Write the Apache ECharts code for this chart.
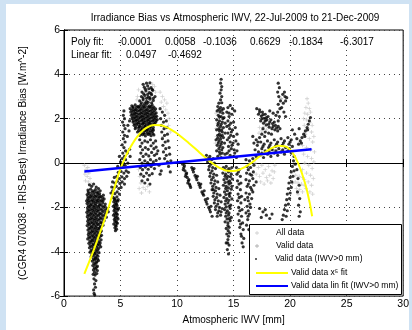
<!DOCTYPE html>
<html>
<head>
<meta charset="utf-8">
<script src="https://cdn.jsdelivr.net/npm/echarts@6/dist/echarts.min.js"></script>
<style>
  html, body { margin: 0; padding: 0; background: #ffffff; }
  #chart { width: 412px; height: 330px; }
</style>
</head>
<body>
<div id="chart"></div>
<script>
// Axis ticks
const xTicks = [0, 5, 10, 15, 20, 25, 30];
const yTicks = [-6, -4, -2, 0, 2, 4, 6];

// Fit coefficients shown in the header
const polyCoeffs = ['-0.0001', '0.0058', '-0.1036', '0.6629', '-0.1834', '-6.3017'];
const linCoeffs = ['0.0497', '-0.4692'];

// All samples (light grey)
const allData = [
  [1.8,-0.1],[1.95,-0.3],[2.1,-0.2],[1.85,-0.5],[2.05,-0.6],[2.2,-0.45],[1.9,-0.8],[2.15,-0.85],[2.3,-0.7],[2.4,-0.95],
  [6.5,3.0],[6.6,3.3],[6.45,2.85],[7.85,3.55],[8.1,3.2],[8.0,3.45],
  [8.5,3.2],[8.7,3.0],[8.9,2.85],[9.1,2.7],[8.6,2.75],[8.8,2.55],[9.0,2.4],[9.2,2.25],[9.3,2.0],[9.25,1.7],[9.4,1.4],
  [6.6,-0.3],[6.7,-0.6],[6.8,-0.9],[6.65,-1.15],[6.85,-1.35],[7.0,-1.1],[7.2,-1.2],[7.4,-1.05],[7.55,-1.3],
  [13.45,2.25],[13.55,1.8],[13.45,1.55],[13.6,2.0],[13.5,1.2],[13.4,0.9],
  [16.9,0.0],[17.2,-0.2],[17.5,-0.1],[17.8,-0.3],[18.1,-0.15],[18.4,-0.35],[17.0,-0.5],[17.3,-0.6],[17.6,-0.45],
  [17.9,-0.65],[18.2,-0.55],[18.5,-0.7],[17.4,-0.85],[17.7,-0.95],[18.0,-0.8],[18.3,-0.9],[18.6,-0.4],[18.65,-0.1],
  [17.3,1.6],[17.5,1.45],[17.7,1.65],[17.25,1.35],[17.9,1.5],
  [21.5,2.9],[21.6,2.7],[21.4,2.5],[21.7,2.45],[21.3,2.25],[21.55,2.2],[21.8,2.3],[21.2,2.0],[21.45,1.95],[21.75,1.85],
  [21.95,1.7],[21.25,1.7],[21.6,1.55],[21.9,1.4],[22.1,1.2],[21.35,1.3],[21.7,1.1],[22.0,0.95],[21.1,0.8],[21.45,0.7],
  [21.8,0.6],[22.15,0.5],[21.2,0.4],[21.55,0.3],[21.9,0.2],[22.1,0.05],[21.3,0.0],[21.65,-0.1],[21.95,-0.25],[21.1,-0.3],
  [21.45,-0.45],[21.8,-0.55],[22.05,-0.7],[21.25,-0.75],[21.6,-0.85],[21.9,-1.0],[21.4,-1.15],[21.75,-1.3],[22.0,-1.4],
  [20.5,-0.55],[20.8,-0.6],[21.1,-0.65],[20.45,-0.85],[20.7,-0.9],[21.0,-0.95],[21.25,-1.0],[20.55,-1.15],[20.85,-1.2],
  [21.1,-1.3],[20.7,-1.4]
];

// Quality-checked samples (mid grey, mostly under the IWV>0 points)
const validData = [
  [2.6,-2.0],[3.1,-2.9],[4.5,-1.9],[6.9,2.1],[7.6,1.7],[8.8,1.2],[11.6,-0.6],[13.8,1.5],[14.6,-1.4],[15.5,-1.6],
  [17.8,1.9],[18.5,0.6],[19.2,2.9],[20.2,-0.9],[21.3,1.3]
];

// Quality-checked samples with IWV > 0 mm (black)
const validPositive = [
  // 2-4 mm
  [2.25,-0.98],[2.45,-1.05],[2.62,-0.95],[2.85,-1.08],[3.05,-1.15],
  [2.12,-1.22],[2.35,-1.18],[2.55,-1.25],[2.78,-1.2],[2.98,-1.3],[3.2,-1.25],
  [2.05,-1.42],[2.22,-1.38],[2.42,-1.45],[2.63,-1.4],[2.82,-1.48],[3.02,-1.42],[3.25,-1.5],[3.48,-1.45],
  [2.1,-1.62],[2.3,-1.58],[2.5,-1.65],[2.7,-1.6],[2.9,-1.66],[3.1,-1.6],[3.32,-1.68],[3.55,-1.62],
  [2.04,-1.82],[2.2,-1.78],[2.4,-1.85],[2.6,-1.8],[2.8,-1.84],[3.0,-1.78],[3.2,-1.86],[3.42,-1.8],[3.65,-1.85],
  [2.08,-2.02],[2.28,-1.98],[2.48,-2.05],[2.68,-2.0],[2.88,-2.04],[3.08,-1.98],[3.28,-2.06],[3.5,-2.0],[3.78,-2.04],
  [2.02,-2.22],[2.22,-2.18],[2.42,-2.25],[2.62,-2.2],[2.82,-2.24],[3.02,-2.18],[3.22,-2.26],[3.45,-2.2],[3.7,-2.24],[3.92,-2.2],
  [2.06,-2.42],[2.26,-2.38],[2.46,-2.45],[2.66,-2.4],[2.86,-2.44],[3.06,-2.38],[3.26,-2.46],[3.5,-2.4],[3.75,-2.44],
  [2.1,-2.62],[2.3,-2.58],[2.5,-2.65],[2.7,-2.6],[2.9,-2.64],[3.1,-2.58],[3.3,-2.66],[3.55,-2.6],
  [2.05,-2.82],[2.25,-2.78],[2.45,-2.85],[2.65,-2.8],[2.85,-2.84],[3.05,-2.78],[3.25,-2.86],[3.45,-2.8],
  [2.12,-3.02],[2.32,-2.98],[2.52,-3.05],[2.72,-3.0],[2.92,-3.04],[3.12,-2.98],[3.3,-3.06],
  [2.15,-3.22],[2.35,-3.18],[2.55,-3.25],[2.75,-3.2],[2.95,-3.24],[3.15,-3.18],[3.32,-3.26],
  [2.1,-3.42],[2.3,-3.38],[2.5,-3.45],[2.7,-3.4],[2.9,-3.44],[3.1,-3.38],[3.28,-3.46],
  [2.2,-3.62],[2.4,-3.58],[2.6,-3.65],[2.8,-3.6],[3.0,-3.64],[3.2,-3.6],
  [2.25,-3.82],[2.45,-3.78],[2.65,-3.85],[2.85,-3.8],[3.05,-3.84],[3.25,-3.78],
  [2.3,-4.02],[2.5,-3.98],[2.7,-4.05],[2.9,-4.0],[3.1,-4.04],
  [2.4,-4.22],[2.6,-4.18],[2.8,-4.25],[3.0,-4.2],
  [2.5,-4.42],[2.7,-4.38],[2.9,-4.45],[3.05,-4.4],
  [2.55,-4.62],[2.75,-4.58],[2.95,-4.65],
  [2.6,-4.82],[2.8,-4.78],[2.95,-4.85],
  [2.58,-5.02],[2.75,-5.05],[2.9,-4.98],
  [2.65,-5.22],[2.82,-5.3],[2.7,-5.45],[2.78,-5.6],[2.62,-5.72],[2.66,-5.88],[2.72,-5.95],
  [2.15,-1.3],[2.45,-1.32],[2.7,-1.3],[2.9,-1.35],[3.15,-1.38],
  [2.12,-1.52],[2.32,-1.5],[2.52,-1.53],[2.72,-1.5],[2.95,-1.53],[3.15,-1.52],[3.4,-1.56],
  [2.0,-1.7],[2.2,-1.69],[2.4,-1.72],[2.6,-1.71],[2.8,-1.74],[3.0,-1.69],[3.2,-1.73],[3.45,-1.71],
  [2.15,-1.92],[2.35,-1.9],[2.55,-1.93],[2.75,-1.91],[2.95,-1.94],[3.15,-1.9],[3.38,-1.93],[3.62,-1.95],
  [2.1,-2.12],[2.3,-2.1],[2.5,-2.13],[2.7,-2.11],[2.9,-2.14],[3.1,-2.1],[3.35,-2.13],[3.6,-2.12],[3.85,-2.1],
  [2.12,-2.32],[2.32,-2.3],[2.52,-2.33],[2.72,-2.31],[2.92,-2.34],[3.14,-2.3],[3.36,-2.33],[3.62,-2.32],
  [2.15,-2.52],[2.35,-2.5],[2.55,-2.53],[2.75,-2.51],[2.95,-2.54],[3.18,-2.5],[3.42,-2.53],
  [2.15,-2.72],[2.35,-2.7],[2.55,-2.73],[2.75,-2.71],[2.95,-2.74],[3.18,-2.7],[3.38,-2.72],
  [2.2,-2.92],[2.4,-2.9],[2.6,-2.93],[2.8,-2.91],[3.0,-2.94],[3.2,-2.9],
  [2.22,-3.12],[2.44,-3.1],[2.64,-3.13],[2.84,-3.11],[3.05,-3.14],[3.24,-3.1],
  [2.2,-3.32],[2.42,-3.3],[2.62,-3.33],[2.82,-3.31],[3.02,-3.34],[3.2,-3.3],
  [2.28,-3.52],[2.5,-3.5],[2.7,-3.53],[2.9,-3.51],[3.1,-3.54],
  [2.32,-3.72],[2.55,-3.7],[2.75,-3.73],[2.95,-3.71],[3.15,-3.7],
  [2.4,-3.92],[2.6,-3.9],[2.8,-3.93],[3.0,-3.91],
  [2.48,-4.12],[2.7,-4.1],[2.9,-4.13],[2.6,-4.32],[2.8,-4.3],[2.98,-4.33],
  [2.65,-4.52],[2.85,-4.5],[2.68,-4.72],[2.88,-4.7],[2.7,-4.92],
  // 4-6 mm
  [4.35,-1.55],[4.5,-1.6],[4.68,-1.52],[4.8,-1.65],[4.4,-1.75],[4.58,-1.8],[4.75,-1.72],[4.36,-1.95],[4.52,-2.0],
  [4.7,-1.92],[4.82,-2.05],[4.42,-2.15],[4.6,-2.2],[4.76,-2.12],[4.38,-2.35],[4.55,-2.4],[4.72,-2.32],[4.45,-2.55],
  [4.62,-2.6],[4.78,-2.52],[4.4,-2.75],[4.58,-2.8],[4.72,-2.72],[4.5,-2.92],[4.65,-2.98],[4.55,-3.05],
  [4.45,-1.65],[4.62,-1.7],[4.48,-1.88],[4.65,-1.85],[4.5,-2.08],[4.68,-2.05],[4.48,-2.28],[4.65,-2.28],[4.52,-2.48],
  [4.7,-2.45],[4.5,-2.65],[4.66,-2.68],[4.6,-2.85],
  [4.15,-1.35],[4.3,-1.25],[4.5,-1.38],[4.7,-1.3],[4.9,-1.4],[4.22,-1.08],[4.42,-1.12],[4.62,-1.05],[4.85,-1.15],
  [5.05,-1.1],[4.3,-0.85],[4.5,-0.9],[4.72,-0.82],[4.95,-0.92],[5.15,-0.85],[5.35,-0.95],[4.45,-0.65],[4.68,-0.6],
  [4.9,-0.7],[5.12,-0.62],[5.35,-0.7],[5.55,-0.6],[4.8,-0.42],[5.05,-0.38],[5.3,-0.45],[5.5,-0.35],[5.7,-0.42],
  [4.75,-0.15],[5.0,0.05],[5.2,-0.1],[5.45,0.15],[5.65,0.0],[5.85,0.3],[4.9,0.3],[5.6,0.45],[5.8,0.62],
  [5.1,-0.2],[5.25,0.0],[5.4,-0.1],[5.15,0.2],[5.35,0.3],[5.2,0.45],[5.45,0.55],[5.3,0.7],[5.15,0.82],[5.4,0.95],
  [5.25,1.1],[5.35,1.25],[5.2,1.4],[5.4,1.55],[5.3,1.7],[5.18,1.85],[5.35,2.0],[5.25,2.15],[5.3,2.35],
  [5.6,1.2],[5.75,1.45],[5.65,1.7],[5.8,1.9],
  // 6-10 mm
  [6.0,2.58],[6.3,2.62],[6.55,2.56],[6.8,2.64],[7.05,2.6],[7.3,2.66],[7.55,2.58],[7.8,2.62],
  [5.85,2.45],[6.1,2.48],[6.35,2.42],[6.6,2.5],[6.85,2.44],[7.1,2.48],[7.35,2.42],[7.6,2.5],[7.85,2.46],[8.1,2.44],
  [5.9,2.3],[6.15,2.33],[6.4,2.27],[6.65,2.34],[6.9,2.28],[7.15,2.32],[7.4,2.27],[7.65,2.33],[7.9,2.3],[8.15,2.26],
  [5.95,2.15],[6.2,2.18],[6.45,2.12],[6.7,2.19],[6.95,2.13],[7.2,2.17],[7.45,2.12],[7.7,2.18],[7.95,2.14],[8.2,2.11],
  [6.0,2.0],[6.25,2.03],[6.5,1.97],[6.75,2.04],[7.0,1.98],[7.25,2.02],[7.5,1.97],[7.75,2.03],[8.0,1.99],[8.25,1.96],
  [6.1,1.85],[6.35,1.88],[6.6,1.82],[6.85,1.89],[7.1,1.83],[7.35,1.87],[7.6,1.82],[7.85,1.88],[8.1,1.84],
  [6.2,1.7],[6.45,1.73],[6.7,1.67],[6.95,1.74],[7.2,1.68],[7.45,1.72],[7.7,1.67],[7.95,1.73],
  [6.3,1.55],[6.6,1.58],[6.85,1.52],[7.1,1.59],[7.35,1.53],[7.6,1.57],[7.85,1.52],
  [6.5,1.4],[6.8,1.43],[7.05,1.37],[7.3,1.44],[7.55,1.38],[7.8,1.42],
  [6.7,1.25],[6.95,1.28],[7.2,1.22],[7.45,1.29],[7.7,1.23],[7.95,1.27],
  [6.12,2.53],[6.42,2.52],[6.7,2.55],[6.95,2.53],[7.2,2.55],[7.45,2.52],[7.7,2.55],[7.95,2.52],
  [6.0,2.38],[6.25,2.39],[6.5,2.37],[6.75,2.4],[7.0,2.37],[7.25,2.39],[7.5,2.36],[7.75,2.4],[8.0,2.37],
  [6.05,2.22],[6.3,2.24],[6.55,2.21],[6.8,2.25],[7.05,2.22],[7.3,2.24],[7.55,2.2],[7.8,2.24],[8.05,2.21],
  [6.1,2.07],[6.35,2.09],[6.6,2.06],[6.85,2.1],[7.1,2.06],[7.35,2.09],[7.6,2.05],[7.85,2.08],[8.1,2.06],
  [6.15,1.92],[6.4,1.94],[6.65,1.91],[6.9,1.95],[7.15,1.91],[7.4,1.94],[7.65,1.9],[7.9,1.93],[8.15,1.91],
  [6.25,1.77],[6.5,1.79],[6.75,1.76],[7.0,1.8],[7.25,1.76],[7.5,1.79],[7.75,1.75],[8.0,1.78],
  [6.35,1.62],[6.65,1.64],[6.9,1.61],[7.15,1.65],[7.4,1.61],[7.65,1.64],[7.9,1.6],
  [6.6,1.47],[6.9,1.49],[7.15,1.46],[7.4,1.5],[7.65,1.46],[7.9,1.48],
  [6.8,1.33],[7.1,1.31],[7.35,1.34],[7.6,1.31],[7.85,1.33],
  [6.7,2.8],[7.0,2.85],[7.3,2.78],[7.6,2.88],[7.9,2.82],[6.85,3.0],[7.15,3.05],[7.45,2.98],[7.75,3.08],[8.05,3.0],
  [6.9,3.2],[7.25,3.25],[7.55,3.18],[7.85,3.28],[7.1,3.42],[7.4,3.48],[7.7,3.4],[7.3,3.6],[7.6,3.62],[7.0,3.55],
  [6.85,2.72],[7.15,2.7],[7.45,2.74],[7.75,2.72],[7.0,2.93],[7.3,2.92],[7.6,2.95],[7.9,2.92],[7.05,3.12],[7.4,3.1],
  [7.7,3.14],[7.2,3.33],[7.5,3.35],[7.8,3.32],
  [8.5,2.45],[8.7,2.3],[8.9,2.15],[8.55,2.0],[8.8,1.85],[9.05,1.9],[8.6,1.7],[8.85,1.55],[9.1,1.6],[8.65,1.4],
  [8.9,1.25],[9.15,1.3],[8.7,1.1],[8.95,0.95],[9.2,1.0],[8.75,0.8],[9.0,0.65],[9.3,0.7],[8.8,0.5],[9.05,0.35],
  [9.35,0.4],[8.9,0.2],[9.15,0.05],[9.45,0.1],[9.25,-0.15],
  [6.7,1.05],[6.9,0.9],[7.15,1.0],[7.4,0.95],[7.65,1.05],[7.9,0.9],[8.1,1.0],
  [6.75,0.75],[6.95,0.6],[7.2,0.7],[7.45,0.62],[7.7,0.78],[7.95,0.65],[8.15,0.72],
  [6.8,0.45],[7.0,0.3],[7.25,0.4],[7.5,0.32],[7.75,0.48],[8.0,0.35],[8.2,0.42],
  [6.7,0.15],[6.9,0.0],[7.15,0.1],[7.4,0.02],[7.65,0.15],[7.9,0.05],[8.15,0.12],
  [6.75,-0.2],[6.95,-0.3],[7.2,-0.18],[7.45,-0.28],[7.7,-0.15],[8.0,-0.25],
  [6.8,-0.5],[7.05,-0.6],[7.3,-0.45],[7.55,-0.55],[7.8,-0.48],
  [6.9,-0.8],[7.15,-0.9],[7.4,-0.75],[7.6,-0.95],
  [8.3,0.55],[8.45,0.2],[8.4,-0.1],[8.6,-0.35],[8.5,-0.5],[9.4,-0.4],
  // 10-14 mm
  [10.5,-0.05],[10.6,-0.2],[10.7,-0.35],[10.8,-0.5],[10.9,-0.65],[11.0,-0.8],[11.1,-0.95],[11.2,-1.1],[10.55,-0.3],
  [10.75,-0.6],[10.95,-0.9],[10.65,-0.12],[10.85,-0.45],[11.05,-0.75],[11.15,-1.02],
  [11.3,-0.2],[11.45,-0.4],[11.6,-0.55],[11.75,-0.75],[11.9,-0.9],[12.05,-1.1],[12.2,-1.3],[12.35,-1.45],[12.5,-1.65],
  [12.65,-1.85],[12.8,-2.0],[12.95,-2.2],[13.1,-2.4],[11.5,-0.25],[11.8,-0.6],[12.1,-0.95],[12.4,-1.25],[12.7,-1.6],
  [13.0,-1.95],[13.2,-1.2],[11.38,-0.3],[11.68,-0.65],[11.98,-1.0],[12.28,-1.38],[12.58,-1.75],[12.88,-2.1],
  [12.6,0.35],[12.9,0.3],[13.2,0.2],[12.7,0.05],[13.0,-0.05],[13.3,0.0],[12.8,-0.3],[13.1,-0.35],[13.4,-0.25],
  [12.9,-0.6],[13.2,-0.65],[13.5,-0.55],[13.0,-0.9],[13.3,-0.95],[13.6,-0.85],[13.1,-1.2],[13.4,-1.25],[13.7,-1.15],
  [13.2,-1.5],[13.5,-1.55],[13.8,-1.45],[13.3,-1.8],[13.6,-1.85],[13.9,-1.75],[13.4,-2.1],[13.7,-2.15],[14.0,-2.05],
  [13.55,-2.4],[13.85,-2.35],
  [12.75,0.2],[13.05,0.15],[12.85,-0.15],[13.15,-0.2],[12.95,-0.45],[13.25,-0.5],[13.05,-0.75],[13.35,-0.8],
  [13.15,-1.05],[13.45,-1.1],[13.25,-1.35],[13.55,-1.4],[13.35,-1.65],[13.65,-1.7],[13.45,-1.95],[13.75,-2.0],
  [13.6,-2.25],[13.9,-2.2],
  [13.9,3.78],[13.85,3.6],[13.95,3.45],[13.9,3.3],[13.8,3.15],[13.95,3.0],[13.85,2.85],[13.7,2.7],[13.95,2.72],
  [13.6,2.55],[13.85,2.5],[14.1,2.45],[13.55,2.35],[13.8,2.3],[14.05,2.25],[13.65,2.15],[13.9,2.1],[14.15,2.05],
  [13.5,1.95],[13.75,1.9],[14.0,1.85],[14.25,1.8],[13.6,1.7],[13.85,1.65],[14.1,1.6],[13.5,1.5],[13.75,1.45],
  [14.0,1.4],[14.25,1.35],[13.6,1.25],[13.85,1.2],[14.1,1.15],[13.45,1.05],[13.7,1.0],[13.95,0.95],[14.2,0.9],
  [13.55,0.8],[13.8,0.75],[14.05,0.7],[13.5,0.55],[13.75,0.5],[14.0,0.45],[14.25,0.4],[13.6,0.3],[13.9,0.25],
  [13.7,2.42],[13.95,2.38],[13.75,2.08],[14.05,2.0],[13.65,1.8],[13.9,1.75],[13.7,1.55],[13.95,1.5],[13.75,1.3],
  [14.0,1.25],[13.6,1.12],[13.85,1.08],[13.65,0.9],[13.9,0.85],[13.7,0.65],[13.95,0.6],[13.8,0.4],
  // 14-17 mm
  [14.5,2.5],[14.7,2.6],[14.9,2.45],[15.1,2.35],
  [14.4,2.3],[14.6,2.1],[14.85,2.2],[14.5,1.9],[14.75,1.8],[15.0,1.85],[14.4,1.65],[14.65,1.55],[14.9,1.5],[15.15,1.6],
  [14.5,1.35],[14.75,1.25],[15.0,1.2],[15.3,1.3],[14.45,1.05],[14.7,0.95],[14.95,0.9],[15.2,1.0],[15.4,0.85],
  [14.55,0.75],[14.8,0.65],[15.05,0.6],[15.3,0.55],[14.45,0.45],[14.7,0.35],[15.0,0.3],[15.25,0.25],
  [14.6,2.25],[14.6,1.7],[14.8,1.4],[14.6,1.15],[14.85,0.8],[14.6,0.55],[15.1,0.45],
  [14.1,-0.2],[14.35,-0.15],[14.6,-0.25],[14.85,-0.2],[14.05,-0.45],[14.3,-0.5],[14.55,-0.4],[14.8,-0.5],[14.15,-0.75],
  [14.4,-0.7],[14.65,-0.8],[14.9,-0.72],[14.1,-1.0],[14.35,-1.05],[14.6,-0.95],[14.85,-1.05],[14.2,-1.3],[14.45,-1.25],
  [14.7,-1.35],[14.15,-1.55],[14.4,-1.6],[14.65,-1.5],[14.85,-1.62],[14.25,-1.85],[14.5,-1.8],[14.75,-1.9],[14.2,-2.1],
  [14.45,-2.15],[14.7,-2.05],[14.3,-2.4],[14.55,-2.35],[14.8,-2.45],[14.25,-2.65],[14.5,-2.7],[14.7,-2.6],[14.35,-2.95],
  [14.6,-2.9],[14.4,-3.2],[14.65,-3.15],[14.5,-3.45],[14.35,-3.6],[14.6,-3.7],[14.45,-3.9],[14.55,-4.1],
  [14.25,-0.3],[14.5,-0.32],[14.75,-0.35],[14.25,-0.6],[14.5,-0.6],[14.72,-0.62],[14.25,-0.88],[14.5,-0.85],[14.75,-0.9],
  [14.3,-1.15],[14.55,-1.12],[14.8,-1.18],[14.32,-1.42],[14.58,-1.4],[14.3,-1.7],[14.58,-1.68],[14.35,-1.98],[14.62,-1.95],
  [14.35,-2.25],[14.6,-2.25],[14.42,-2.52],[14.62,-2.5],[14.5,-2.82],[14.52,-3.05],[14.55,-3.3],[14.48,-3.6],
  [15.25,-0.2],[15.5,-0.3],[15.3,-0.5],[15.6,-0.6],[15.35,-0.8],[15.65,-0.9],[15.3,-1.1],[15.6,-1.2],[15.4,-1.4],
  [15.7,-1.5],[15.35,-1.7],[15.65,-1.8],[15.45,-2.0],[15.75,-2.1],[15.4,-2.3],[15.7,-2.4],[15.5,-2.6],[15.8,-2.7],
  [15.55,-2.9],[15.85,-3.0],[15.65,-3.2],[15.9,-3.4],[15.75,-3.6],[15.85,-3.78],
  [15.42,-0.4],[15.48,-0.95],[15.5,-1.55],[15.55,-2.15],[15.62,-2.75],[15.7,-3.3],
  [16.1,0.15],[16.4,0.1],[16.7,0.2],[16.2,-0.15],[16.5,-0.2],[16.8,-0.1],[16.15,-0.45],[16.45,-0.5],[16.75,-0.4],
  [16.1,-0.75],[16.4,-0.8],[16.7,-0.7],[17.0,-0.85],[16.2,-1.05],[16.5,-1.1],[16.8,-1.0],[16.1,-1.35],[16.4,-1.4],
  [16.7,-1.3],[16.0,-1.65],[16.3,-1.7],[16.6,-1.6],[16.2,-1.95],[16.5,-2.0],[16.1,-2.25],[16.4,-2.3],[16.25,-2.55],
  [16.15,-2.8],[16.35,-3.0],
  [16.3,-0.3],[16.6,-0.55],[16.3,-0.95],[16.6,-1.2],[16.25,-1.55],[16.45,-1.85],[16.3,-2.15],[16.28,-2.4],
  // 17-22 mm
  [17.05,2.45],[17.3,2.4],[17.55,2.3],[17.8,2.2],[18.05,2.1],[17.2,2.2],[17.45,2.12],[17.7,2.02],[17.95,1.95],
  [18.2,1.85],[18.45,1.78],[18.7,1.7],[18.95,1.65],[17.4,1.9],[17.65,1.8],[17.9,1.72],[18.15,1.62],[18.4,1.55],
  [18.65,1.5],[18.9,1.45],[19.1,1.55],[17.6,1.55],[17.8,1.4],[17.5,1.3],[17.75,1.2],[18.1,1.35],[18.35,1.3],
  [18.2,2.35],[18.5,2.25],[18.75,2.15],
  [17.3,2.3],[17.6,2.18],[17.9,2.05],[18.3,1.95],[18.6,1.85],[17.5,2.0],[17.8,1.9],[18.1,1.75],[18.5,1.65],[18.8,1.58],
  [18.95,1.9],[19.05,2.1],[18.9,2.3],[19.1,2.45],[18.95,2.65],[19.15,2.8],[19.0,3.0],[18.9,3.2],[19.05,3.4],
  [18.95,3.6],[19.35,3.1],[19.55,3.0],[19.6,2.8],[19.4,2.7],[19.7,2.95],[19.5,3.2],[19.25,2.5],[19.45,2.3],[19.6,2.1],
  [16.7,1.2],[17.0,1.05],[17.3,1.15],[16.8,0.9],[17.1,0.8],[17.4,0.95],[17.7,0.85],[18.0,1.0],[18.3,0.9],[18.6,1.05],
  [18.9,0.95],[19.2,1.1],[19.5,1.0],[19.8,1.15],[20.1,1.05],[16.9,0.6],[17.2,0.5],[17.5,0.65],[17.8,0.55],[18.1,0.7],
  [18.4,0.6],[18.7,0.75],[19.0,0.65],[19.3,0.8],[19.6,0.7],[19.9,0.85],[20.2,0.75],[17.0,0.3],[17.35,0.35],[17.65,0.25],
  [18.0,0.4],[18.3,0.3],[18.6,0.45],[18.9,0.35],[19.2,0.5],[19.5,0.4],[19.8,0.55],[20.1,0.45],[20.35,0.3],
  [17.15,0.95],[17.6,0.75],[18.2,0.8],[18.8,0.85],[19.4,0.9],[20.0,0.95],[17.5,0.45],[18.15,0.5],[18.75,0.55],
  [19.35,0.6],[19.95,0.65],
  [20.3,0.1],[20.2,-0.15],[20.45,-0.05],[20.1,-0.4],[20.35,-0.35],[20.0,-0.65],[20.25,-0.6],[19.9,-0.9],[20.15,-0.85],
  [19.85,-1.15],[20.1,-1.1],[19.75,-1.4],[20.0,-1.35],[19.7,-1.65],[19.95,-1.6],[19.6,-1.9],[19.85,-1.85],[19.5,-2.1],
  [19.75,-2.15],[19.4,-2.35],[19.65,-2.4],[19.3,-2.55],
  [20.6,-0.3],[20.7,-0.7],[20.8,-1.0],[20.65,-1.3],[20.85,-1.6],[20.75,-1.9],[20.9,-2.2],[20.8,-2.4],
  [20.75,0.85],[20.9,1.0],[21.05,1.15],[21.2,1.3],[21.35,1.45],[21.5,1.6],[21.6,1.75],[21.7,1.9],[21.8,2.05],
  [21.0,0.9],[21.3,1.2],[21.55,1.5],[20.2,1.5],[20.4,1.3],[20.6,1.1],[20.8,1.55],
  [17.3,-2.05],[17.6,-2.2],[17.9,-2.35],[18.2,-2.5],[17.45,-2.45],[17.8,-2.1],[18.4,-2.3]
];

// Fifth-order polynomial fit, sampled along IWV
const polyFit = [
  [1.8,-5.0],[2.5,-4.1],[3.0,-3.4],[3.5,-2.68],[4.0,-1.9],[4.5,-1.05],[5.0,-0.25],[5.5,0.35],[6.0,0.82],[6.5,1.2],
  [7.0,1.48],[7.5,1.64],[8.0,1.72],[8.5,1.71],[9.0,1.63],[9.5,1.5],[10.0,1.33],[10.5,1.13],[11.0,0.92],[11.5,0.7],
  [12.0,0.47],[12.5,0.25],[13.0,0.04],[13.5,-0.14],[14.0,-0.27],[14.5,-0.35],[15.0,-0.36],[15.5,-0.3],[16.0,-0.18],
  [16.5,-0.02],[17.0,0.18],[17.5,0.38],[18.0,0.56],[18.5,0.7],[19.0,0.78],[19.5,0.76],[20.0,0.6],[20.5,0.22],
  [21.0,-0.4],[21.5,-1.25],[21.95,-2.4]
];

// Linear fit over the IWV>0 samples
const linFit = [[1.8,-0.3797],[21.9,0.6192]];

const FONT = '"Liberation Sans", Arial, sans-serif';
const plusPath = 'path://M2,0H3V2H5V3H3V5H2V3H0V2H2Z';

const chart = echarts.init(document.getElementById('chart'), null, { renderer: 'canvas' });

const axisCommon = {
  axisLine: { show: true, lineStyle: { color: '#000', width: 1 } },
  axisTick: { show: true, inside: true, length: 4, lineStyle: { color: '#000' } },
  splitLine: { show: false }
};

const textEls = [];
const polyX = [118, 165, 203, 250, 289, 340];
const linX = [126, 168];
const txt = (s, x, y, size, align) => ({
  type: 'text', x: x, y: y, z: 5,
  style: { text: s, font: size + 'px ' + FONT, fill: '#000', align: align || 'left', verticalAlign: 'middle' }
});
textEls.push(txt('Irradiance Bias vs Atmospheric IWV, 22-Jul-2009 to 21-Dec-2009', 235, 18, 10, 'center'));
textEls.push(txt('Poly fit:', 71, 42, 10));
textEls.push(txt('Linear fit:', 71, 55, 10));
polyCoeffs.forEach((c, i) => textEls.push(txt(c, polyX[i], 42, 10)));
linCoeffs.forEach((c, i) => textEls.push(txt(c, linX[i], 55, 10)));

const legendBase = {
  orient: 'vertical', left: 255, itemWidth: 32, itemGap: 0, padding: 0,
  textStyle: { fontFamily: FONT, fontSize: 8.5, color: '#000', lineHeight: 13, padding: [0, 0, 0, -2] },
  selectedMode: false, z: 6
};

const option = {
  animation: false,
  backgroundColor: '#fff',
  grid: { left: 64, top: 30, width: 342, height: 270, show: true, borderColor: '#000', borderWidth: 1, backgroundColor: '#fff' },
  xAxis: [
    Object.assign({}, axisCommon, {
      type: 'value', position: 'bottom',
      min: xTicks[0], max: xTicks[xTicks.length - 1], interval: xTicks[1] - xTicks[0],
      name: 'Atmospheric IWV [mm]', nameLocation: 'middle', nameGap: 16,
      nameTextStyle: { fontFamily: FONT, fontSize: 10, color: '#000' },
      axisLabel: { margin: 3, fontFamily: FONT, fontSize: 10.5, color: '#000' },
      splitLine: { show: true, lineStyle: { color: '#444', width: 1, type: [1, 4] } }
    }),
    Object.assign({}, axisCommon, {
      type: 'value', position: 'top',
      min: xTicks[0], max: xTicks[xTicks.length - 1], interval: xTicks[1] - xTicks[0],
      axisLabel: { show: false }
    })
  ],
  yAxis: [
    Object.assign({}, axisCommon, {
      type: 'value', position: 'left',
      min: yTicks[0], max: yTicks[yTicks.length - 1], interval: yTicks[1] - yTicks[0],
      name: '(CGR4 070038 - IRIS-Best) Irradiance Bias [W.m^-2]', nameLocation: 'middle', nameGap: 36,
      nameMoveOverlap: false,
      nameTextStyle: { fontFamily: FONT, fontSize: 10, color: '#000' },
      axisLabel: { margin: 4, fontFamily: FONT, fontSize: 10.5, color: '#000' },
      splitLine: { show: true, lineStyle: { color: '#444', width: 1, type: [1, 4] } }
    }),
    Object.assign({}, axisCommon, {
      type: 'value', position: 'right',
      min: yTicks[0], max: yTicks[yTicks.length - 1], interval: yTicks[1] - yTicks[0],
      axisLabel: { show: false }
    })
  ],
  legend: [
    Object.assign({}, legendBase, { data: ['All data', 'Valid data'], top: 226.5, itemHeight: 4 }),
    Object.assign({}, legendBase, { data: ['Valid data (IWV>0 mm)'], top: 252.5, itemHeight: 2 }),
    Object.assign({}, legendBase, { data: ['Valid data x\u2075 fit', 'Valid data lin fit (IWV>0 mm)'], top: 266.5, itemHeight: 2 })
  ],
  graphic: [
    { type: 'rect', z: 5, shape: { x: 249.5, y: 224.5, width: 152, height: 70 }, style: { fill: '#fff', stroke: '#000', lineWidth: 1 } },
    { type: 'rect', z: 10, shape: { x: 0, y: 0, width: 6, height: 330 }, style: { fill: '#cfe2f3' } },
    { type: 'rect', z: 10, shape: { x: 0, y: 0, width: 412, height: 4 }, style: { fill: '#cfe2f3' } },
    { type: 'rect', z: 10, shape: { x: 409, y: 0, width: 3, height: 330 }, style: { fill: '#cfe2f3' } }
  ].concat(textEls),
  series: [
    { name: 'All data', type: 'scatter', data: allData, symbol: plusPath, symbolSize: 4, itemStyle: { color: '#c4c4c4' }, z: 2 },
    { name: 'Valid data', type: 'scatter', data: validData, symbol: plusPath, symbolSize: 4, itemStyle: { color: '#9a9a9a' }, z: 2 },
    { name: 'Valid data (IWV>0 mm)', type: 'scatter', data: validPositive, symbol: 'circle', symbolSize: 3.2, itemStyle: { color: '#000' }, z: 3 },
    { name: 'Valid data x\u2075 fit', type: 'line', data: polyFit, smooth: true, symbol: 'none', lineStyle: { color: '#ffff00', width: 2 }, itemStyle: { color: '#ffff00' }, z: 4 },
    { name: 'Valid data lin fit (IWV>0 mm)', type: 'line', data: linFit, symbol: 'none', lineStyle: { color: '#0000ff', width: 2.5 }, itemStyle: { color: '#0000ff' }, z: 4 }
  ]
};

chart.setOption(option);
</script>
</body>
</html>
